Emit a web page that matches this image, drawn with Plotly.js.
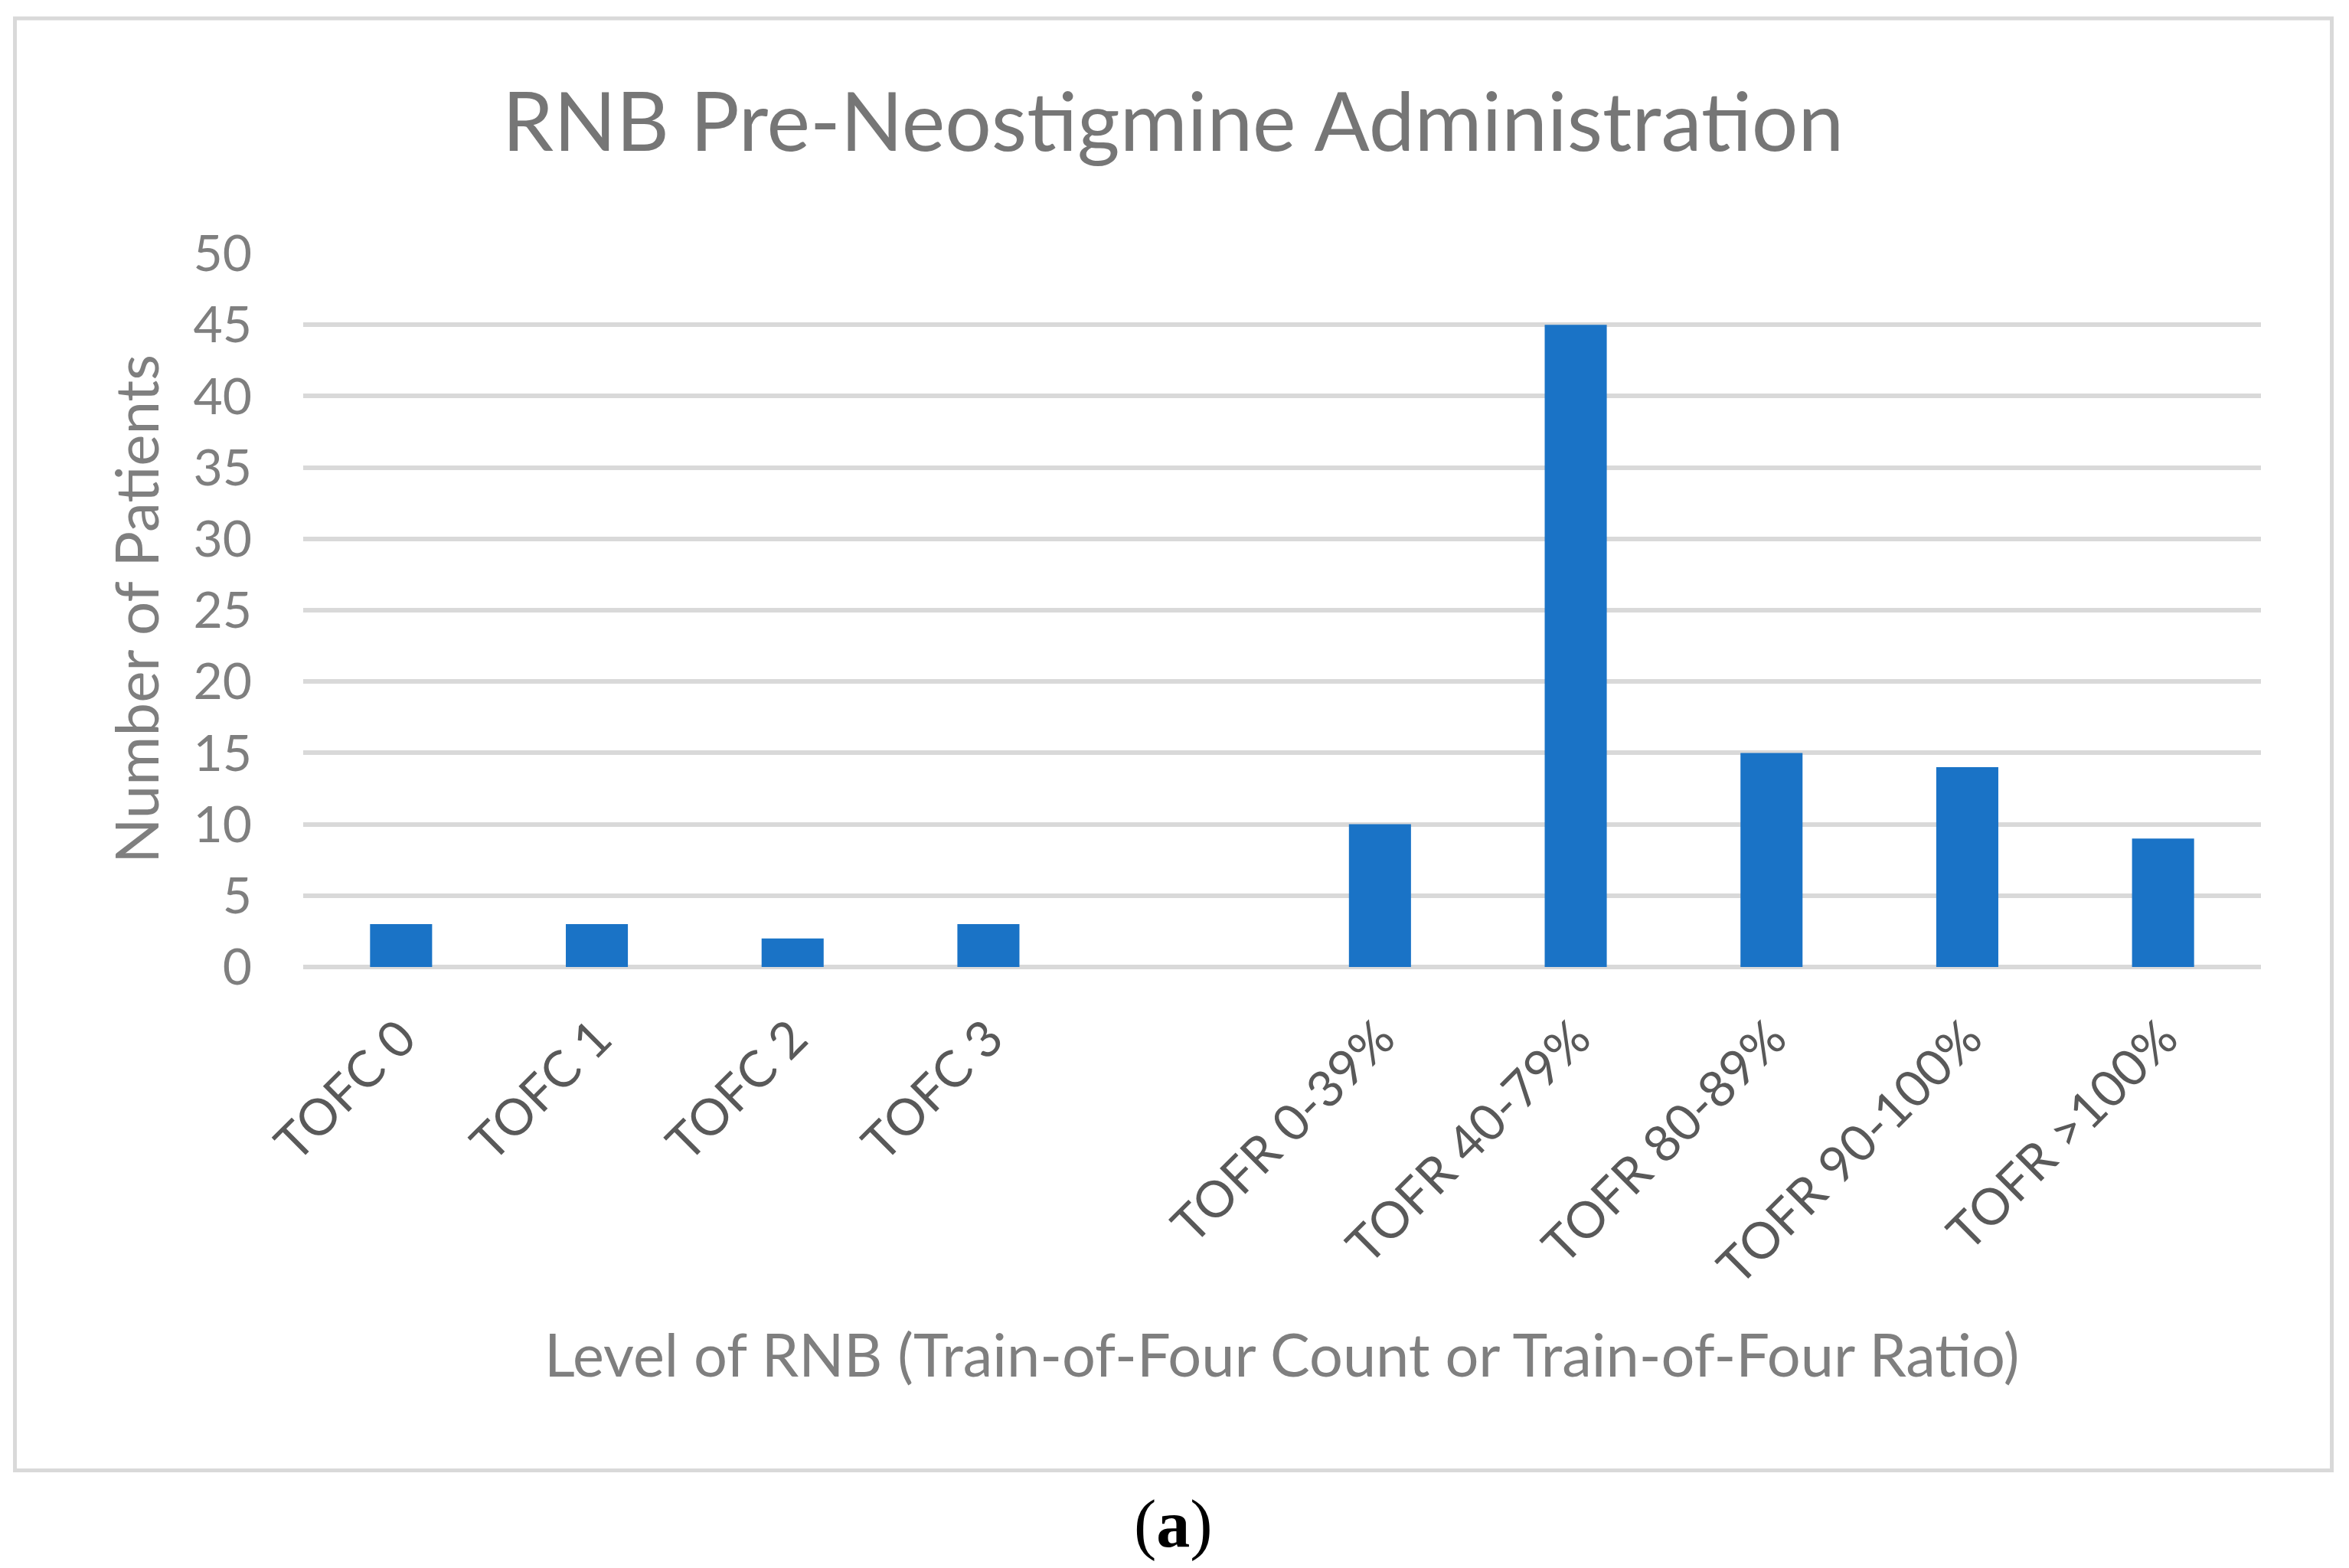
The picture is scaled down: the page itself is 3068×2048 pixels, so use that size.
<!DOCTYPE html>
<html>
<head>
<meta charset="utf-8">
<script src="https://cdn.plot.ly/plotly-3.0.1.min.js"></script>
<style>
  html, body { margin: 0; padding: 0; background: #ffffff; }
  #chart { width: 3068px; height: 2048px; }
</style>
</head>
<body>
<div id="chart"></div>
<script>
// categories (the blank one is the empty slot between TOFC and TOFR)
var categories = ["TOFC 0", "TOFC 1", "TOFC 2", "TOFC 3", " ",
                  "TOFR 0-39%", "TOFR 40-79%", "TOFR 80-89%", "TOFR 90-100%", "TOFR >100%"];
var patients = [3, 3, 2, 3, null, 10, 45, 15, 14, 9];
var yTicks = [0, 5, 10, 15, 20, 25, 30, 35, 40, 45, 50];

// plot area in pixels
var L = 396, R = 2953, T = 331, B = 1263;
function px(x) { return (x - L) / (R - L); }
function py(y) { return (B - y) / (B - T); }

var sans = "Lato, 'Noto Sans', sans-serif";

var data = [{
    type: "bar",
    x: categories,
    y: patients,
    marker: { color: "#1a73c6" },
    hoverinfo: "x+y"
}];

var layout = {
    width: 3068,
    height: 2048,
    margin: { l: L, r: 3068 - R, t: T, b: 2048 - B, pad: 0 },
    paper_bgcolor: "#ffffff",
    plot_bgcolor: "#ffffff",
    showlegend: false,
    bargap: 0.683,
    font: { family: sans, color: "#7f7f7f" },
    title: {
        text: "RNB Pre-Neostigmine Administration",
        font: { size: 107, color: "#767676", family: sans },
        xref: "container", yref: "container",
        x: 0.4994, xanchor: "center",
        y: 1 - 160 / 2048, yanchor: "middle"
    },
    xaxis: {
        type: "category",
        categoryorder: "array",
        categoryarray: categories,
        range: [-0.5, categories.length - 0.5],
        showgrid: false,
        showline: false,
        zeroline: false,
        ticks: "",
        tickangle: -45,
        ticklabelstandoff: 40,
        tickfont: { size: 66, color: "#595959", family: sans },
        automargin: false
    },
    yaxis: {
        range: [0, 50],
        tickvals: yTicks,
        ticktext: yTicks.map(String),
        showgrid: true,
        gridcolor: "#d9d9d9",
        gridwidth: 6,
        zeroline: true,
        zerolinecolor: "#d9d9d9",
        zerolinewidth: 6,
        showline: false,
        ticks: "",
        ticklabelstandoff: 66,
        tickfont: { size: 66, color: "#7f7f7f", family: sans },
        automargin: false
    },
    annotations: [
        {
            text: "Number of Patients",
            xref: "paper", yref: "paper",
            x: px(177), y: py(796),
            xanchor: "center", yanchor: "middle",
            textangle: -90, showarrow: false,
            font: { size: 78, color: "#7f7f7f", family: sans }
        },
        {
            text: "Level of RNB (Train-of-Four Count or Train-of-Four Ratio)",
            xref: "paper", yref: "paper",
            x: px(1674), y: py(1768),
            xanchor: "center", yanchor: "middle",
            showarrow: false,
            font: { size: 77.5, color: "#7f7f7f", family: sans }
        },
        {
            text: "(<b>a</b>)",
            xref: "paper", yref: "paper",
            x: px(1532), y: py(1990),
            xanchor: "center", yanchor: "middle",
            showarrow: false,
            font: { size: 88, color: "#000000", family: "'Liberation Serif', 'DejaVu Serif', serif" }
        }
    ],
    shapes: [{
        type: "rect",
        xref: "paper", yref: "paper",
        x0: px(19.5), x1: px(3045.5),
        y0: py(24), y1: py(1920.5),
        line: { color: "#d9d9d9", width: 5 },
        fillcolor: "rgba(0,0,0,0)",
        layer: "below"
    }]
};

Plotly.newPlot("chart", data, layout, { displayModeBar: false, staticPlot: true });
</script>
</body>
</html>
